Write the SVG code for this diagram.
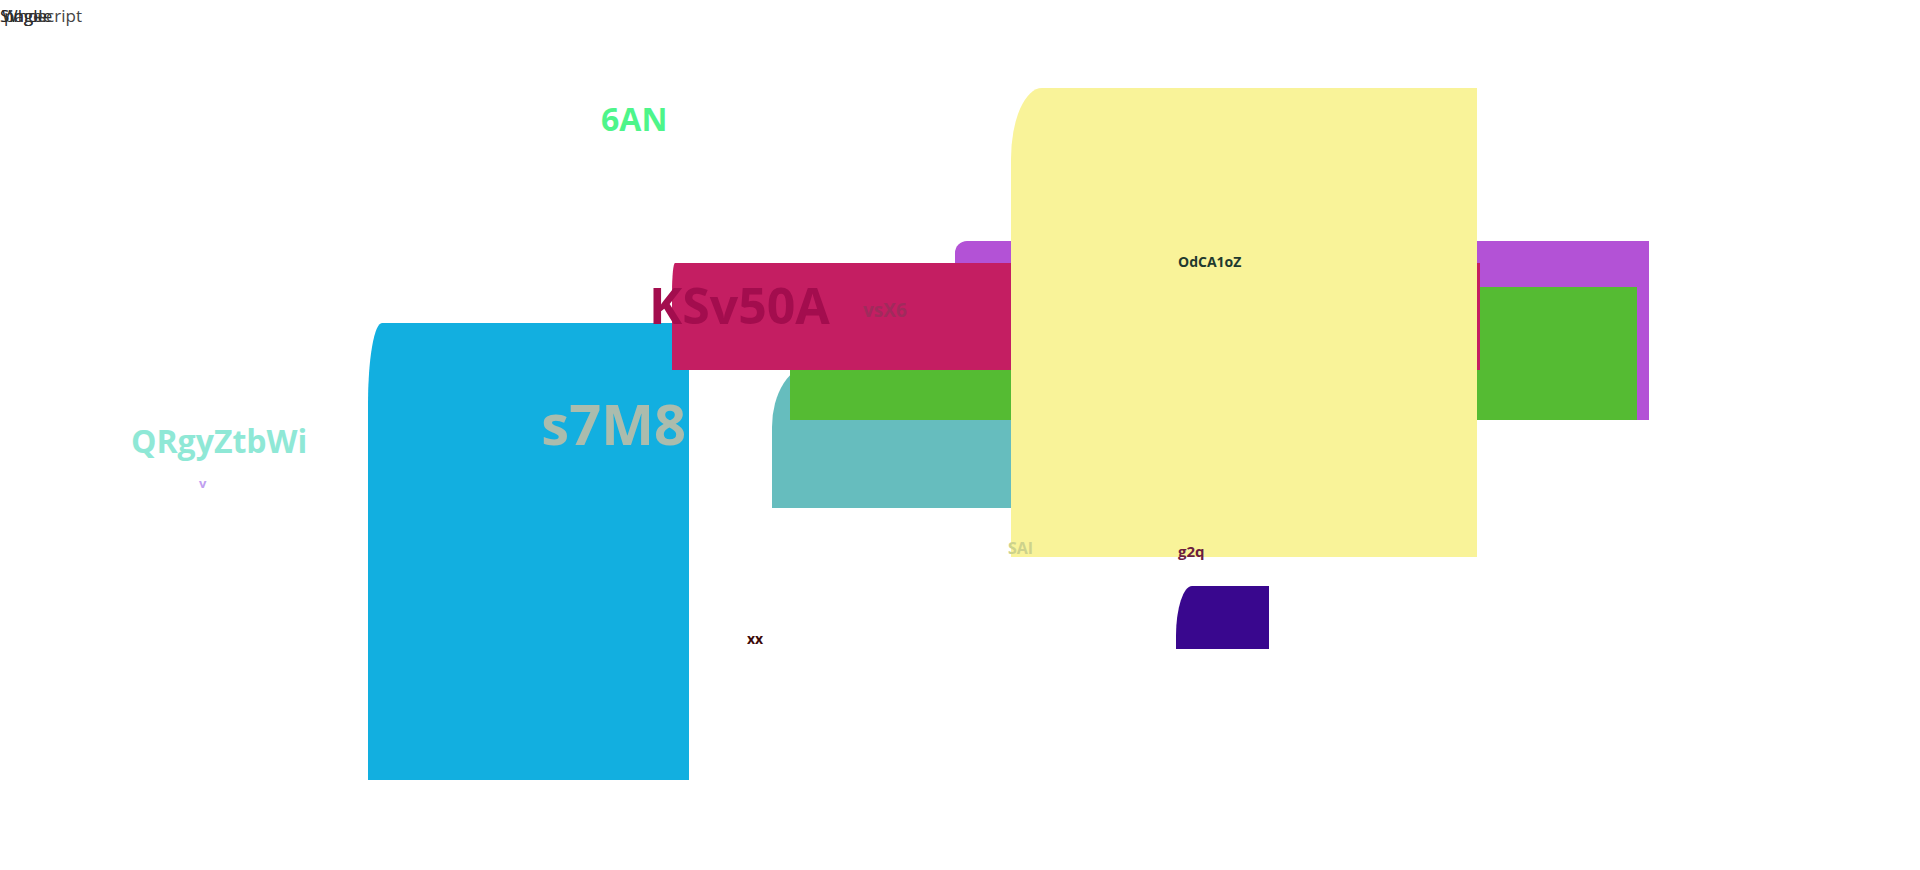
<svg xmlns="http://www.w3.org/2000/svg" width="1920" height="870" viewBox="0 0 1920 870">
<style>
text{font-family:"Open Sans","Noto Sans","Liberation Sans",sans-serif;font-weight:700}
.hd{font-weight:400;font-size:17px}
</style>
<rect width="1920" height="870" fill="#ffffff"/>
<g id="header">
<text class="hd" x="0" y="22" fill="#222">Single</text>
<text class="hd" x="2" y="22" fill="#2a2a2a">Whole</text>
<text class="hd" x="4" y="22" fill="#333">page</text>
<text class="hd" x="38" y="22" fill="#444">script</text>
</g>
<g id="node-blue"><path d="M368,780 V403 A14,80 0 0 1 382,323 H689 V780 Z" fill="#12afe0"/></g>
<g id="node-teal"><path d="M772,508 V427 A40,62 0 0 1 812,365 H1011 V508 Z" fill="#66bdbe"/></g>
<g id="node-purple"><path d="M955,420 V253 A12,12 0 0 1 967,241 H1649 V420 Z" fill="#b352d6"/></g>
<g id="node-green"><rect x="790" y="287" width="847" height="133" fill="#55bb33"/></g>
<g id="node-crimson"><path d="M672,370 V293 A3,30 0 0 1 675,263 H1480 V370 Z" fill="#c41e62"/></g>
<g id="node-yellow"><path d="M1011,557 V159 A31,71 0 0 1 1042,88 H1477 V557 Z" fill="#f9f399"/></g>
<g id="node-indigo"><path d="M1176,649 V636 A16,50 0 0 1 1192,586 H1269 V649 Z" fill="#39078e"/></g>
<g id="connectors"></g>
<g id="labels">
<text x="601" y="131" font-size="32" fill="#4ef58a">6AN</text>
<text x="649" y="324" font-size="50" fill="#a30d4e">KSv50A</text>
<text x="863" y="317" font-size="19" fill="#a02b5c">vsX6</text>
<text x="686" y="445" font-size="56" fill="#abbcad" text-anchor="end">s7M8</text>
<text x="131" y="453" font-size="32" fill="#8fe8d6">QRgyZtbWi</text>
<text x="199" y="488" font-size="13" fill="#c0a0f0">v</text>
<text x="1178" y="267" font-size="14" fill="#1f3a2f">OdCA1oZ</text>
<text x="1008" y="554" font-size="16" fill="#cdd28c">SAI</text>
<text x="1178" y="557" font-size="15" fill="#6b1d3f">g2q</text>
<text x="747" y="644" font-size="14" fill="#3d0a0a">xx</text>
</g>
</svg>
